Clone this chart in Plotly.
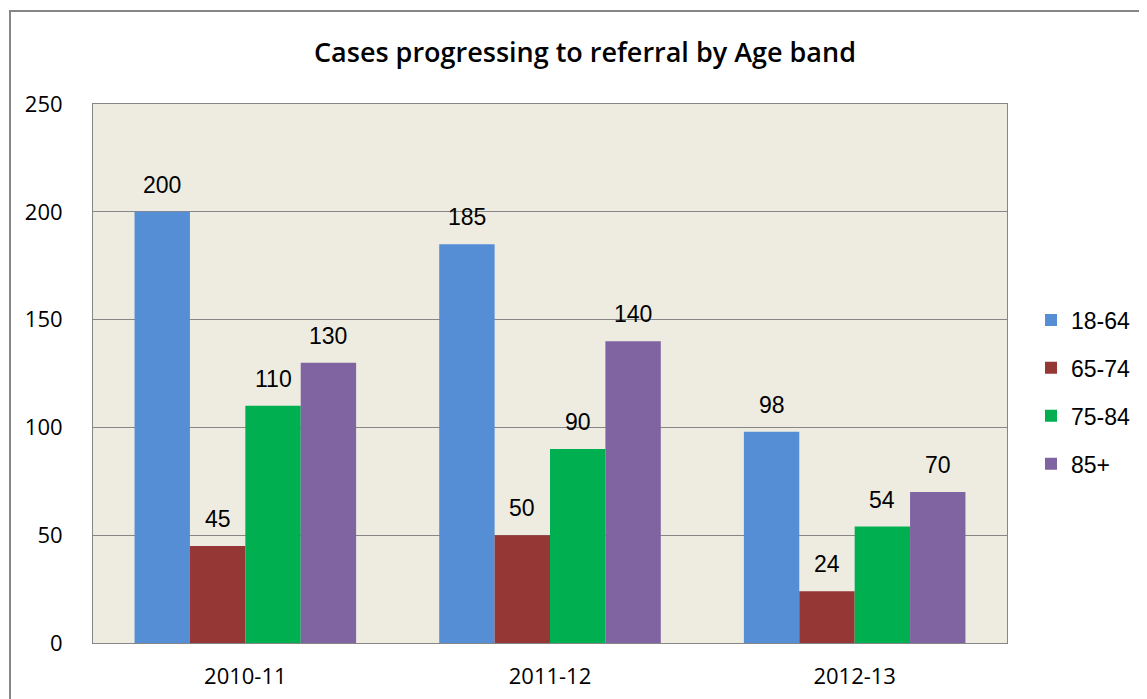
import plotly.graph_objects as go

categories = ["2010-11", "2011-12", "2012-13"]
series_names = ["18-64", "65-74", "75-84", "85+"]
v_18_64 = [200, 185, 98]
v_65_74 = [45, 50, 24]
v_75_84 = [110, 90, 54]
v_85_plus = [130, 140, 70]
y_ticks = [0, 50, 100, 150, 200, 250]

series_values = [v_18_64, v_65_74, v_75_84, v_85_plus]
colors = ["#558ED5", "#953735", "#00B050", "#8064A2"]

# page has an 8px body margin; figure coordinates = page coordinates - 8
OFF = 8
W, H = 1147 - OFF, 699 - OFF
L, T = 93 - OFF, 104 - OFF
R = W - (1007 - OFF)
B = H - (643 - OFF)
plot_w = W - L - R
plot_h = H - T - B

fig = go.Figure()
for i, (name, vals) in enumerate(zip(series_names, series_values)):
    fig.add_trace(go.Bar(
        x=categories, y=vals, name=name,
        marker=dict(color=colors[i], line=dict(width=0)),
        legendgroup=name,
    ))

bargap = 1.5 / 5.5
cat_w = plot_w / len(categories)
bar_w = cat_w * (1 - bargap) / len(series_names)
annotations = []
for i, vals in enumerate(series_values):
    for c, v in zip(categories, vals):
        annotations.append(dict(
            x=c, y=v, xref="x", yref="y", text=str(v), showarrow=False,
            xshift=(i - 1.5) * bar_w, yshift=27, yanchor="middle",
            font=dict(family="Liberation Sans", size=23, color="#000000"),
        ))

fig.update_layout(
    width=W, height=H,
    margin=dict(l=L, r=R, t=T, b=B, pad=0, autoexpand=False),
    paper_bgcolor="white",
    plot_bgcolor="#EEECE1",
    barmode="group", bargap=bargap, bargroupgap=0,
    title=dict(text="Cases progressing to referral by Age band",
               x=(585 - OFF) / W, xanchor="center", y=1 - (53 - OFF) / H, yanchor="middle",
               font=dict(family="Open Sans", size=27, color="#000000", weight=600)),
    font=dict(family="Open Sans", size=22, color="#000000"),
    xaxis=dict(type="category", showgrid=False, showline=True, linecolor="#868686",
               linewidth=1, mirror=True, ticks="", ticklabelstandoff=14,
               tickfont=dict(family="Open Sans", size=22)),
    yaxis=dict(range=[0, 250], tickvals=y_ticks, showgrid=True, gridcolor="#868686",
               gridwidth=1, showline=True, linecolor="#868686", linewidth=1, mirror=True,
               ticks="", ticklabelstandoff=25, zeroline=False,
               tickfont=dict(family="Open Sans", size=22)),
    legend=dict(x=(1031 - OFF - L) / plot_w, xanchor="left", y=(643 - 392) / plot_h,
                yanchor="middle", tracegroupgap=15, traceorder="grouped",
                font=dict(family="Liberation Sans", size=23), itemwidth=30,
                bgcolor="rgba(0,0,0,0)"),
    annotations=annotations,
    shapes=[dict(type="rect", xref="paper", yref="paper",
                 x0=(10 - 93) / plot_w, x1=(1170 - 93) / plot_w,
                 y0=(643 - 720) / plot_h, y1=(643 - 11) / plot_h,
                 line=dict(color="#868686", width=2), fillcolor="rgba(0,0,0,0)",
                 layer="below")],
)

fig.write_html("out.html")
